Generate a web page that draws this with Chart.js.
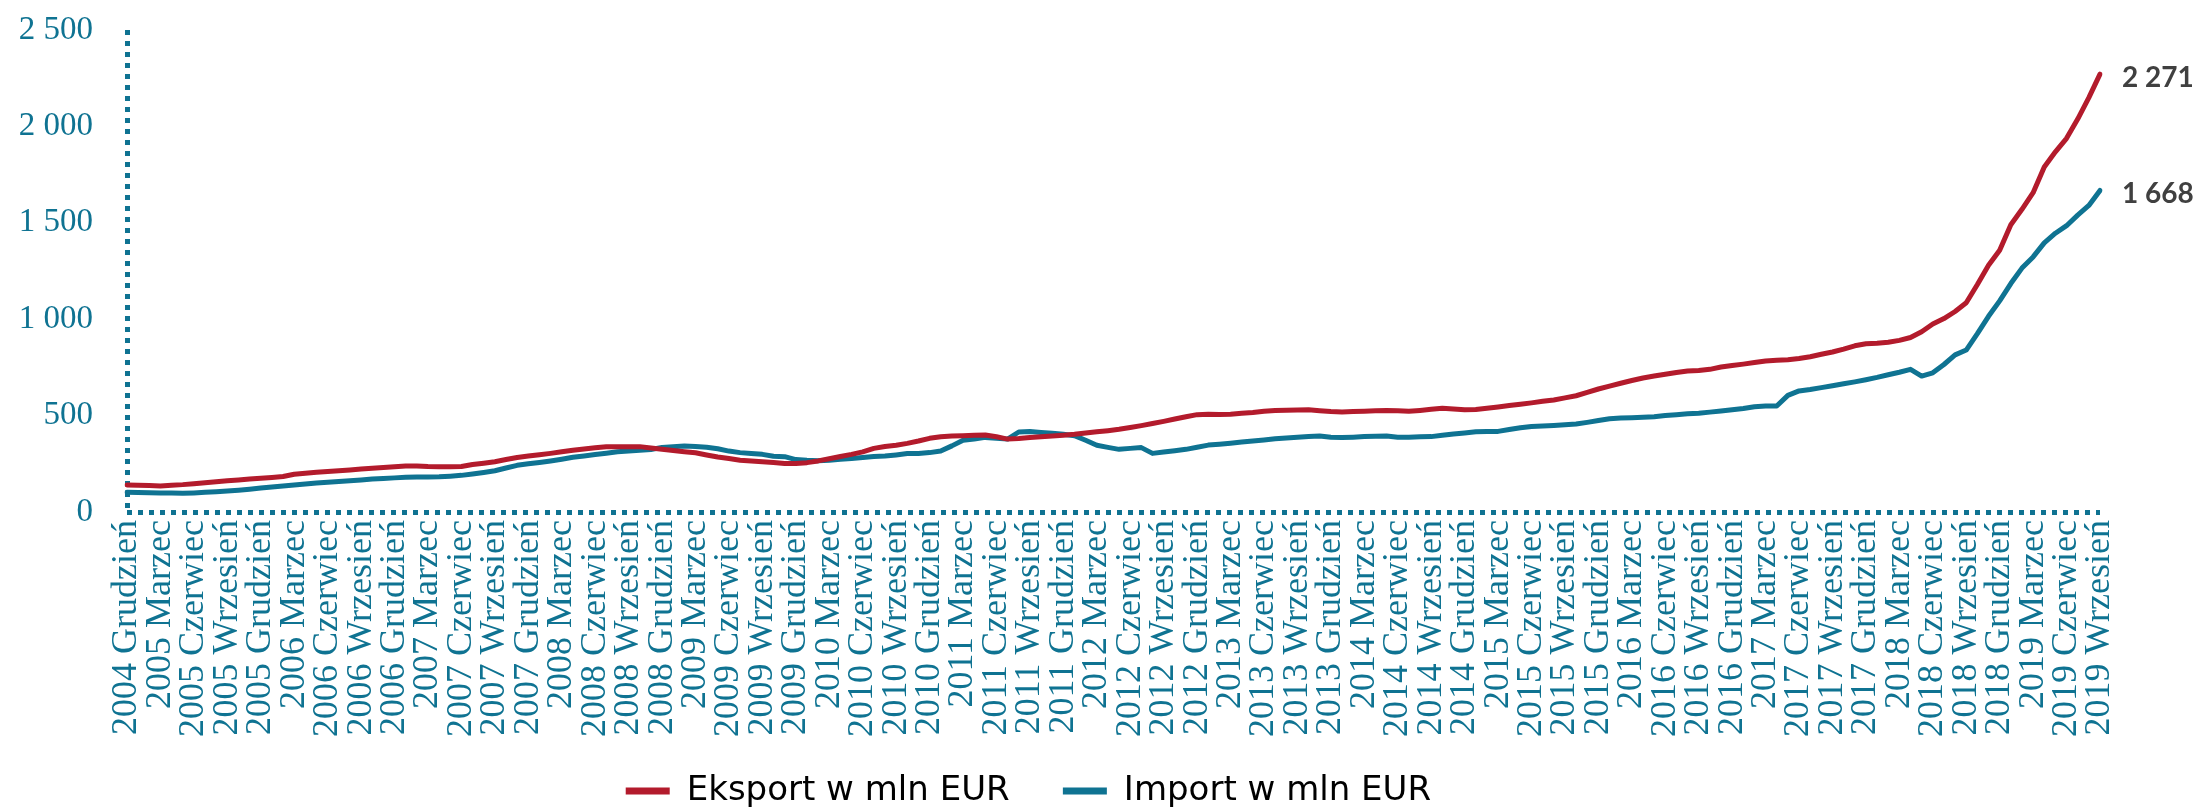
<!DOCTYPE html>
<html>
<head>
<meta charset="utf-8">
<script src="https://cdn.jsdelivr.net/npm/chart.js@4.4.1/dist/chart.umd.min.js"></script>
<style>
  html, body { margin: 0; padding: 0; background: #fff; }
  #wrap { width: 2195px; height: 810px; }
</style>
</head>
<body>
<div id="wrap"><canvas id="chart" width="2195" height="810"></canvas></div>
<script>
// Monthly series, Dec 2004 .. Sep 2019 (178 points), mln EUR.
// Axis shows every third month (quarter ends).
var START_YEAR = 2004;
var START_MONTH = 11; // 0-based: Grudzień
var MONTHS_PL = ['Styczeń', 'Luty', 'Marzec', 'Kwiecień', 'Maj', 'Czerwiec',
  'Lipiec', 'Sierpień', 'Wrzesień', 'Październik', 'Listopad', 'Grudzień'];

var EKSPORT = [
  140, 139, 137, 135, 139, 142, 147, 152, 157, 162, 166, 171,
  175, 179, 184, 196, 201, 206, 210, 214, 218, 223, 227, 231,
  235, 238, 239, 236, 235, 235, 236, 246, 253, 261, 272, 283,
  290, 297, 304, 312, 320, 327, 333, 338, 339, 339, 339, 332,
  325, 319, 313, 307, 296, 285, 277, 268, 264, 261, 257, 252,
  251, 256, 265, 276, 288, 299, 312, 330, 340, 346, 356, 368,
  382, 390, 394, 396, 398, 399, 390, 378, 381, 386, 390, 394,
  398, 403, 410, 416, 422, 429, 438, 448, 459, 470, 482, 494,
  505, 507, 506, 507, 512, 516, 522, 526, 528, 529, 530, 525,
  521, 519, 521, 523, 525, 527, 525, 522, 527, 533, 538, 534,
  530, 532, 538, 545, 552, 559, 566, 574, 581, 592, 603, 620,
  638, 653, 668, 682, 695, 705, 714, 724, 731, 734, 740, 752,
  760, 767, 775, 783, 787, 790, 796, 805, 818, 830, 845, 862,
  873, 875, 880, 890, 905, 935, 975, 1003, 1040, 1085, 1180, 1280,
  1358, 1490, 1570, 1656, 1790, 1868, 1938, 2038, 2149, 2271
];

var IMPORT = [
  102, 101, 100, 99, 98, 97, 99, 102, 105, 109, 113, 118,
  124, 130, 135, 140, 145, 150, 154, 158, 162, 166, 171, 174,
  177, 180, 182, 182, 183, 186, 190, 197, 205, 214, 228, 242,
  250, 257, 265, 274, 284, 291, 298, 305, 312, 316, 320, 324,
  335, 339, 342, 340, 336, 328, 316, 308, 303, 299, 289, 287,
  272, 268, 266, 269, 274, 277, 283, 288, 290, 296, 303, 304,
  308, 316, 343, 372, 378, 387, 382, 378, 415, 417, 412, 408,
  403, 396, 372, 346, 335, 325, 330, 334, 304, 311, 318, 325,
  336, 347, 352, 357, 363, 368, 374, 380, 384, 388, 392, 394,
  388, 386, 388, 391, 393, 394, 388, 388, 390, 391, 398, 405,
  410, 416, 417, 418, 428, 437, 444, 446, 449, 452, 456, 465,
  475, 484, 487, 489, 491, 494, 500, 505, 509, 512, 518, 524,
  530, 537, 546, 550, 550, 605, 628, 635, 645, 655, 665, 675,
  686, 698, 712, 725, 740, 705, 722, 765, 815, 840, 925, 1015,
  1095, 1185, 1265, 1323, 1396, 1446, 1485, 1540, 1590, 1668
];

var SERIES_NAMES = ['Eksport w mln EUR', 'Import w mln EUR'];
var RED = '#b31b2c';
var TEAL = '#0f7392';
var CLEAR = 'rgba(0,0,0,0)';

function monthLabels(count) {
  var out = [];
  for (var i = 0; i < count; i++) {
    var m = START_MONTH + i;
    out.push((START_YEAR + Math.floor(m / 12)) + ' ' + MONTHS_PL[m % 12]);
  }
  return out;
}

// "2500" -> "2 500"
function spaced(n) {
  return String(n).replace(/\B(?=(\d{3})+(?!\d))/g, ' ');
}

// Last value printed just right of each line's end point.
var endLabels = {
  id: 'endLabels',
  afterDatasetsDraw: function (chart) {
    var ctx = chart.ctx;
    var xs = chart.scales.x, ys = chart.scales.y;
    ctx.save();
    ctx.font = 'bold 28px Lato';
    ctx.fillStyle = '#404040';
    ctx.textBaseline = 'middle';
    ctx.textAlign = 'left';
    chart.data.datasets.forEach(function (ds) {
      var last = ds.data.length - 1;
      ctx.fillText(spaced(ds.data[last]), xs.getPixelForValue(last) + 22, ys.getPixelForValue(ds.data[last]) + 4);
    });
    ctx.restore();
  }
};

function lineSet(label, data, color) {
  return {
    label: label,
    data: data,
    borderColor: color,
    backgroundColor: color,
    borderWidth: 5,
    borderJoinStyle: 'round',
    borderCapStyle: 'round',
    pointRadius: 0,
    tension: 0,
    fill: false
  };
}

// The dotted axes are single dashed grid lines (border.dash only styles grid lines).
var dottedAxis = { display: false, dash: [5, 6] };

new Chart(document.getElementById('chart'), {
  type: 'line',
  data: {
    labels: monthLabels(EKSPORT.length),
    datasets: [
      lineSet(SERIES_NAMES[0], EKSPORT, RED),
      lineSet(SERIES_NAMES[1], IMPORT, TEAL)
    ]
  },
  options: {
    responsive: false,
    animation: false,
    devicePixelRatio: 1,
    layout: { padding: { top: 30, right: 95, bottom: -8, left: 0 } },
    plugins: {
      tooltip: { enabled: false },
      legend: {
        position: 'bottom',
        labels: {
          font: { family: 'DejaVu Sans', size: 34 },
          color: '#000',
          boxWidth: 44,
          boxHeight: 7,
          padding: 10,
          generateLabels: function (chart) {
            return Chart.defaults.plugins.legend.labels.generateLabels(chart).map(function (item) {
              item.lineWidth = 0;
              item.text = item.text + '    ';
              return item;
            });
          }
        }
      }
    },
    scales: {
      x: {
        type: 'category',
        offset: false,
        grid: {
          drawTicks: false,
          lineWidth: 5,
          color: function (c) { return c.index === 0 ? TEAL : CLEAR; }
        },
        border: dottedAxis,
        afterFit: function (scale) { scale.height = 252; },
        ticks: {
          autoSkip: false,
          minRotation: 90,
          maxRotation: 90,
          padding: 8,
          color: TEAL,
          font: { family: 'Liberation Serif', size: 36 },
          callback: function (value, index) {
            return index % 3 === 0 ? this.getLabelForValue(value) : null;
          }
        }
      },
      y: {
        min: 0,
        max: 2500,
        grid: {
          drawTicks: false,
          lineWidth: 5,
          color: function (c) { return c.tick && c.tick.value === 0 ? TEAL : CLEAR; }
        },
        border: dottedAxis,
        // wide label gap, but don't let it push the plot top down
        afterFit: function (scale) {
          scale.width = 127;
          scale.paddingTop = 0;
          scale.paddingBottom = 0;
        },
        ticks: {
          stepSize: 500,
          padding: 34,
          color: TEAL,
          font: { family: 'Liberation Serif', size: 33 },
          callback: function (value) { return spaced(value); }
        }
      }
    }
  },
  plugins: [endLabels]
});
</script>
</body>
</html>
